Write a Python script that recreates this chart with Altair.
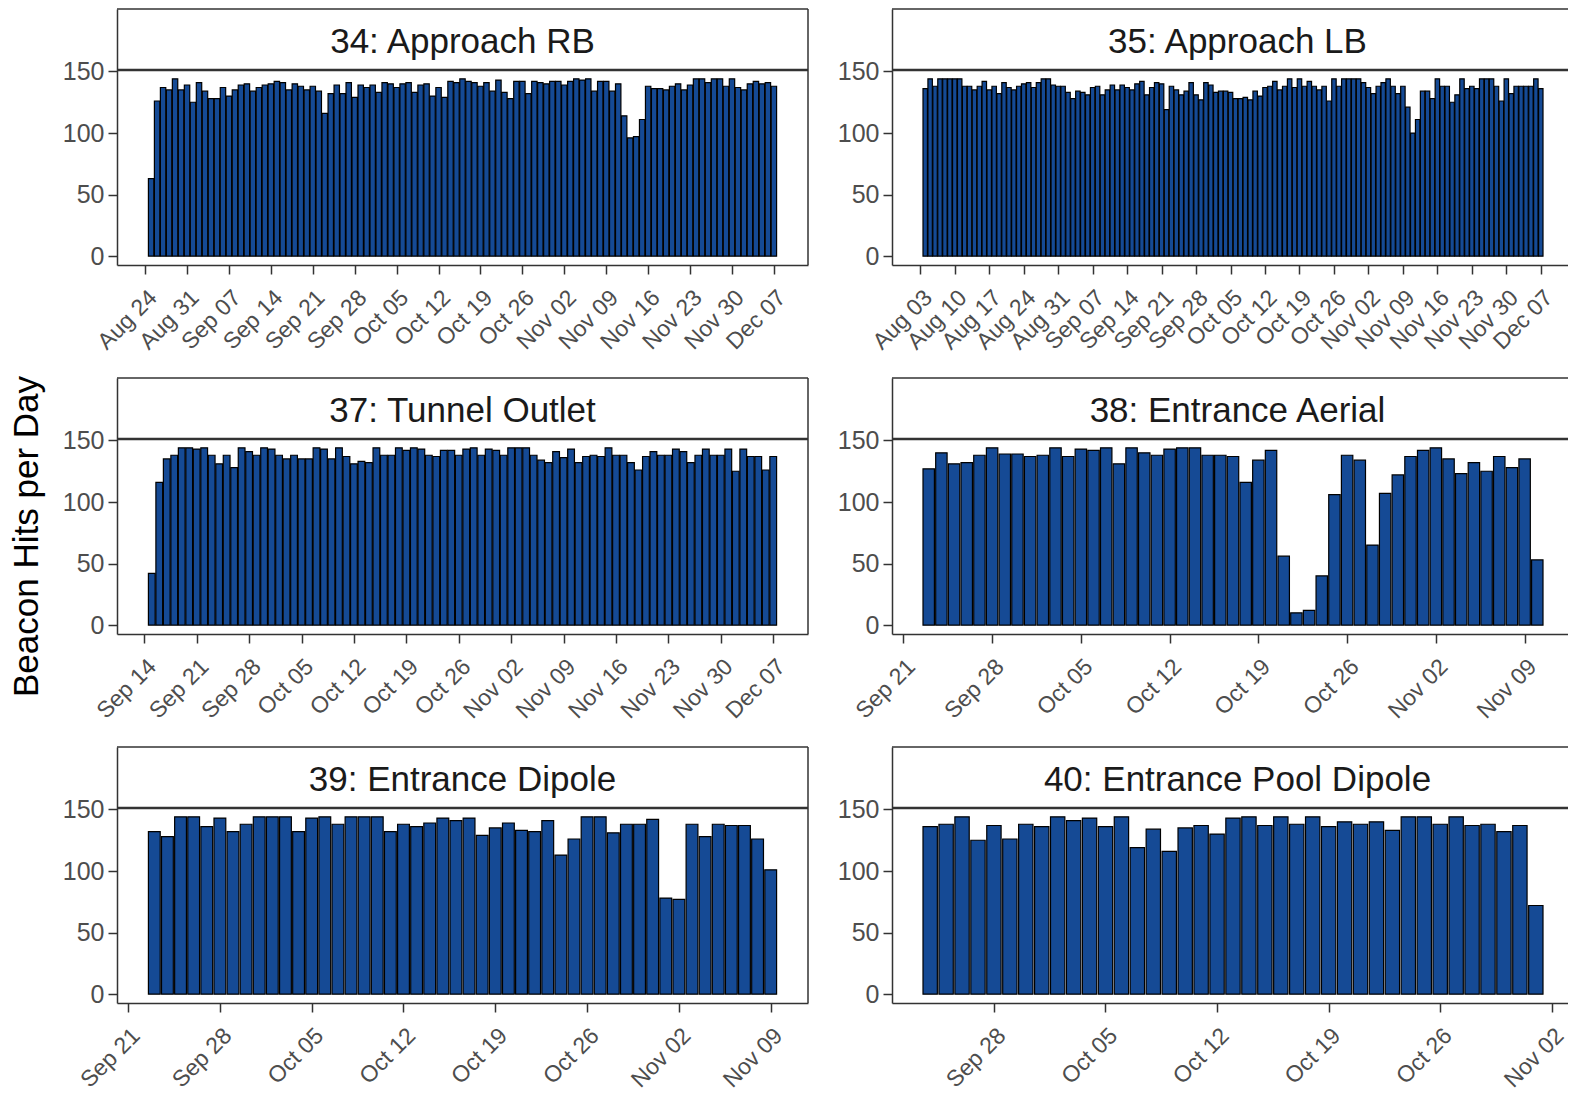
import altair as alt
import pandas as pd

FONT = "Liberation Sans"
BAR_FILL = "#154A95"
BORDER = "#333333"

# ---- data: daily beacon hits, one list per receiver ----
labels = [
    "34: Approach RB",
    "35: Approach LB",
    "37: Tunnel Outlet",
    "38: Entrance Aerial",
    "39: Entrance Dipole",
    "40: Entrance Pool Dipole",
]
first_days = ["2020-08-25", "2020-08-04", "2020-09-15", "2020-09-23", "2020-09-23", "2020-09-24"]

hits_34 = [63, 126, 137, 135, 144, 135, 139, 125, 141, 134,
           128, 128, 137, 130, 135, 139, 140, 134, 137, 139,
           140, 142, 141, 135, 140, 138, 135, 138, 134, 116,
           132, 139, 132, 141, 129, 139, 137, 139, 133, 141,
           140, 137, 140, 141, 133, 139, 140, 130, 137, 129,
           142, 141, 144, 142, 141, 138, 141, 134, 143, 133,
           128, 142, 142, 132, 142, 141, 140, 142, 142, 139,
           142, 144, 143, 144, 134, 142, 142, 134, 140, 114,
           96, 97, 111, 138, 136, 136, 135, 138, 140, 135,
           139, 144, 144, 141, 144, 144, 138, 144, 137, 135,
           140, 142, 140, 141, 138]
hits_35 = [136, 144, 138, 144, 144, 144, 144, 144, 138, 138,
           135, 138, 142, 135, 138, 132, 141, 137, 135, 138,
           140, 141, 137, 141, 144, 144, 139, 138, 138, 133,
           128, 134, 133, 131, 137, 138, 131, 135, 139, 135,
           139, 137, 135, 140, 142, 131, 137, 141, 140, 119,
           138, 135, 131, 134, 141, 131, 127, 141, 139, 133,
           134, 134, 133, 128, 128, 129, 127, 134, 130, 137,
           138, 142, 135, 138, 144, 137, 144, 138, 142, 138,
           135, 138, 126, 144, 138, 144, 144, 144, 144, 141,
           137, 132, 138, 141, 144, 138, 132, 138, 121, 100,
           111, 134, 134, 128, 144, 138, 138, 125, 131, 144,
           136, 138, 136, 144, 144, 144, 138, 126, 144, 132,
           138, 138, 138, 138, 144, 136]
hits_37 = [42, 116, 135, 138, 144, 144, 143, 144, 138, 131,
           138, 128, 144, 141, 138, 144, 143, 138, 135, 138,
           135, 135, 144, 143, 135, 144, 137, 131, 133, 132,
           144, 138, 138, 144, 142, 144, 143, 138, 137, 142,
           142, 138, 143, 144, 138, 143, 142, 138, 144, 144,
           144, 138, 134, 132, 141, 136, 143, 132, 137, 138,
           137, 144, 138, 138, 132, 126, 137, 141, 138, 138,
           143, 141, 132, 138, 143, 138, 138, 143, 125, 143,
           137, 137, 126, 137]
hits_38 = [127, 140, 131, 132, 138, 144, 139, 139, 137, 138,
           144, 137, 143, 142, 144, 131, 144, 140, 138, 143,
           144, 144, 138, 138, 137, 116, 134, 142, 56, 10,
           12, 40, 106, 138, 134, 65, 107, 122, 137, 142,
           144, 135, 123, 132, 125, 137, 128, 135, 53]
hits_39 = [132, 128, 144, 144, 136, 143, 132, 138, 144, 144,
           144, 132, 143, 144, 138, 144, 144, 144, 132, 138,
           136, 139, 143, 141, 143, 129, 135, 139, 133, 132,
           141, 113, 126, 144, 144, 131, 138, 138, 142, 78,
           77, 138, 128, 138, 137, 137, 126, 101]
hits_40 = [136, 138, 144, 125, 137, 126, 138, 136, 144, 141,
           143, 136, 144, 119, 134, 116, 135, 137, 130, 143,
           144, 137, 144, 138, 144, 136, 140, 138, 140, 133,
           144, 144, 138, 144, 137, 138, 132, 137, 72]
series = [hits_34, hits_35, hits_37, hits_38, hits_39, hits_40]

y_ticks = [0, 50, 100, 150]
week_anchor = "2020-08-03"

# ---- layout constants ----
LEFT_W = 691           # left column panel width (px)
RIGHT_W = 682          # right column panel width (runs to the page edge)
PLOT_H = 195           # data area height
STRIP_H = 61           # strip height
DAY_MS = 86400000

ymax_data = max(max(s) for s in series)
y_lo = -0.05 * ymax_data
y_edge = ymax_data * 1.05
px_per_unit = PLOT_H / (y_edge - y_lo)
y_top = y_edge + STRIP_H / px_per_unit

week_ticks = pd.date_range(week_anchor, periods=25, freq="7D")


def to_ms(ts):
    return int(pd.Timestamp(ts).value // 10**6)


def panel(label, first_day, values, width, y_title=None):
    H = PLOT_H + STRIP_H
    dates = pd.date_range(first_day, periods=len(values), freq="D")
    df = pd.DataFrame({"date": dates.strftime("%Y-%m-%d"), "hits": values})
    tmin = to_ms(dates[0]) - 0.45 * DAY_MS
    tmax = to_ms(dates[-1]) + 0.45 * DAY_MS
    rng = tmax - tmin
    d0 = tmin - 0.05 * rng
    d1 = tmax + 0.05 * rng
    ticks = [to_ms(t) for t in week_ticks if d0 <= to_ms(t) <= d1]

    yscale = alt.Scale(domain=[y_lo, y_top], nice=False, zero=False)
    if y_title:
        yaxis = alt.Axis(values=y_ticks, title=y_title, titleX=-80, titleY=158,
                         titleAngle=-90, titleAlign="center", titleBaseline="alphabetic")
    else:
        yaxis = alt.Axis(values=y_ticks, title=None)

    bars = (
        alt.Chart(df)
        .transform_calculate(
            x0="time(toDate(datum.date)) - 0.45 * 86400000",
            x1="time(toDate(datum.date)) + 0.45 * 86400000",
        )
        .mark_bar(fill=BAR_FILL, stroke="black", strokeWidth=1.2)
        .encode(
            x=alt.X("x0:T",
                    scale=alt.Scale(type="utc", domain=[d0, d1], nice=False),
                    axis=alt.Axis(values=ticks, format="%b %d", labelAngle=-45,
                                  labelAlign="right", labelBaseline="top",
                                  labelPadding=12, labelOverlap=False,
                                  labelFlush=False, title=None)),
            x2="x1:T",
            y=alt.Y("hits:Q", scale=yscale, axis=yaxis),
            y2=alt.datum(0),
        )
    )
    edge = (
        alt.Chart(pd.DataFrame({"edge": [y_edge]}))
        .mark_rule(color=BORDER, strokeWidth=2.5)
        .encode(y=alt.Y("edge:Q", scale=yscale, axis=yaxis))
    )
    top = (
        alt.Chart(pd.DataFrame({"k": [0]}))
        .mark_rule(color=BORDER, strokeWidth=1.5)
        .encode(x=alt.value(0), x2=alt.value(width), y=alt.value(0))
    )
    right = (
        alt.Chart(pd.DataFrame({"k": [0]}))
        .mark_rule(color=BORDER, strokeWidth=1.5)
        .encode(x=alt.value(width), y=alt.value(0), y2=alt.value(H))
    )
    strip = (
        alt.Chart(pd.DataFrame({"label": [label]}))
        .mark_text(font=FONT, fontSize=35, color="#1A1A1A", baseline="alphabetic", align="center")
        .encode(x=alt.value(LEFT_W / 2), y=alt.value(44), text="label:N")
    )
    return alt.layer(bars, edge, top, right, strip).properties(width=width, height=H)


panels = [
    panel(labels[0], first_days[0], series[0], LEFT_W),
    panel(labels[1], first_days[1], series[1], RIGHT_W),
    panel(labels[2], first_days[2], series[2], LEFT_W, y_title="Beacon Hits per Day"),
    panel(labels[3], first_days[3], series[3], RIGHT_W),
    panel(labels[4], first_days[4], series[4], LEFT_W),
    panel(labels[5], first_days[5], series[5], RIGHT_W),
]

chart = (
    alt.concat(*panels, columns=2, spacing={"row": 113, "column": 84}, bounds="flush")
    .properties(padding={"left": 0, "top": 0, "right": -8, "bottom": 0}, background="white")
    .configure_view(stroke=None)
    .configure_axis(
        grid=False,
        domain=True,
        domainColor=BORDER,
        domainWidth=1.5,
        tickColor=BORDER,
        tickWidth=1.5,
        tickSize=9,
        labelColor="#4D4D4D",
        labelFont=FONT,
        labelFontSize=23,
        titleFont=FONT,
        titleFontSize=35,
        titleFontWeight="normal",
        titleColor="black",
    )
    .configure_axisY(labelPadding=4, labelFontSize=25)
)

chart.save("out.html", embed_options={"renderer": "svg", "actions": False})
